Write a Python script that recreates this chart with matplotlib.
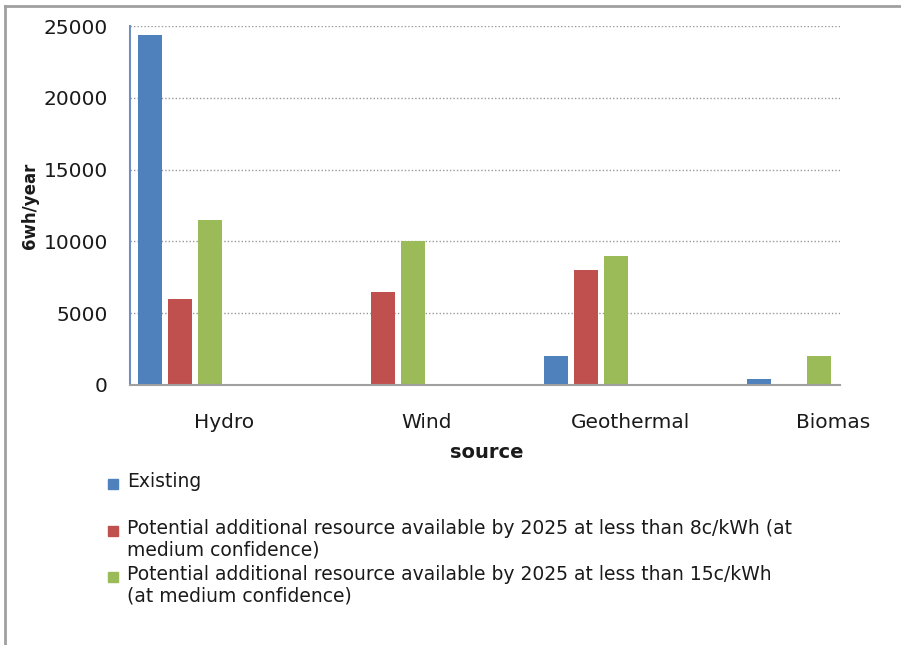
import matplotlib
matplotlib.use("Agg")
import matplotlib.pyplot as plt
from matplotlib.lines import Line2D
from matplotlib.patches import Rectangle
import numpy as np

categories = ["Hydro", "Wind", "Geothermal", "Biomas"]
existing = [24400, 0, 2000, 450]
pot_8c = [6000, 6500, 8000, 0]
pot_15c = [11500, 10000, 9000, 2000]
series_labels = [
    "Existing",
    "Potential additional resource available by 2025 at less than 8c/kWh (at\nmedium confidence)",
    "Potential additional resource available by 2025 at less than 15c/kWh\n(at medium confidence)",
]
yticks = [0, 5000, 10000, 15000, 20000, 25000]
colors = ["#4F81BD", "#C0504D", "#9BBB59"]

W, H = 901, 645
fig = plt.figure(figsize=(W / 100, H / 100), dpi=100)
ax = fig.add_axes([130 / W, (H - 385) / H, 710 / W, (385 - 26) / H])

x = np.arange(len(categories))
bw = 0.118
offsets = [-0.365, -0.217, -0.069]
for vals, off, c in zip([existing, pot_8c, pot_15c], offsets, colors):
    ax.bar(x + off, vals, width=bw, color=c, zorder=3)

ax.set_xlim(-0.463, 3.034)
ax.set_ylim(0, 25000)
ax.set_yticks(yticks)
ax.set_yticklabels([str(v) for v in yticks], fontsize=14.5, color="#1a1a1a")
ax.set_xticks(x)
ax.set_xticklabels(categories, fontsize=14.5, color="#1a1a1a")
ax.tick_params(axis="y", length=0, pad=16)
ax.tick_params(axis="x", length=0, pad=20)
ax.grid(axis="y", linestyle=(0, (1, 1.5)), color="#999999", linewidth=1, zorder=0)
for s in ["top", "right"]:
    ax.spines[s].set_visible(False)
ax.spines["left"].set_color("#6f8fbf")
ax.spines["left"].set_linewidth(1.5)
ax.spines["bottom"].set_color("#a0a0a0")
ax.spines["bottom"].set_linewidth(1.5)
ax.spines["bottom"].set_zorder(4)

fig.text(487 / W, 1 - 452 / H, "source", ha="center", va="center",
         fontsize=14, fontweight="bold", color="#1a1a1a")
fig.text(30 / W, 1 - 206 / H, "6wh/year", ha="center", va="center",
         rotation=90, fontsize=12, fontweight="bold", color="#1a1a1a")

# legend (manual layout)
leg_y = [484, 531, 577]
for lab, c, yy in zip(series_labels, colors, leg_y):
    fig.patches.append(Rectangle(((108) / W, 1 - (yy + 5) / H), 10 / W, 10 / H,
                                 transform=fig.transFigure, color=c, figure=fig))
    fig.text(127 / W, 1 - (yy - 12) / H, lab, ha="left", va="top",
             fontsize=13.5, color="#1a1a1a", linespacing=1.15)

# outer frame lines
fig.add_artist(Line2D([5 / W, 1], [1 - 6 / H, 1 - 6 / H], transform=fig.transFigure,
                      color="#a0a0a0", linewidth=2))
fig.add_artist(Line2D([5 / W, 5 / W], [0, 1 - 6 / H], transform=fig.transFigure,
                      color="#a0a0a0", linewidth=2))

fig.savefig("out.png", dpi=100)
